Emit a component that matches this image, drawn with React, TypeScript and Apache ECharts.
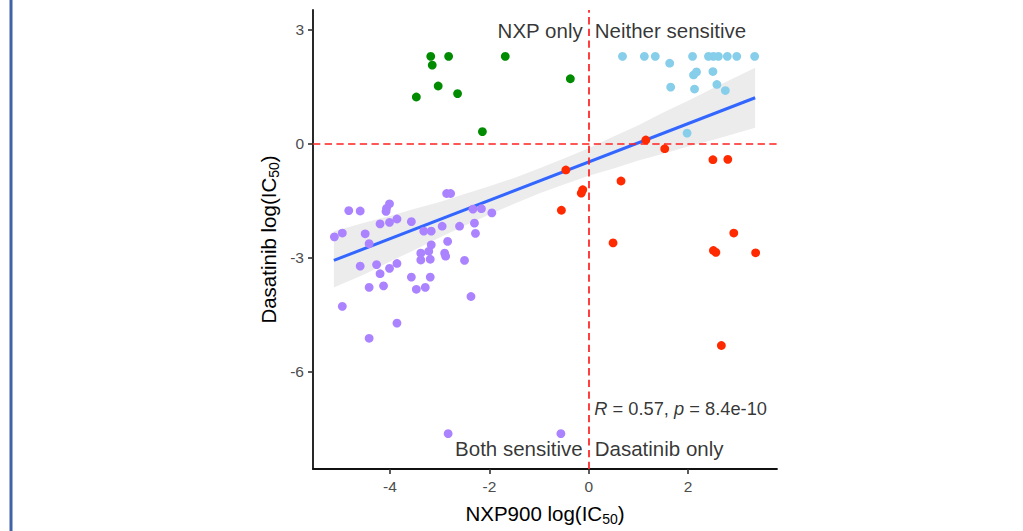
import React, { useEffect, useRef } from "react";
import * as echarts from "echarts";

const FONT = '"Liberation Sans", Arial, Helvetica, sans-serif';

// Both sensitive (purple)
const bothSensitive: [number, number][] = [
  [-2.86, -1.32], [-2.78, -1.32], [-4.83, -1.77], [-4.6, -1.78], [-4.01, -1.59],
  [-4.07, -1.71], [-4.08, -1.79], [-2.33, -1.73], [-2.16, -1.72], [-1.95, -1.83],
  [-3.86, -1.99], [-4.2, -2.12], [-4.01, -2.08], [-3.57, -2.06], [-5.12, -2.46],
  [-4.96, -2.36], [-4.5, -2.38], [-4.42, -2.64], [-3.32, -2.31], [-3.17, -2.31],
  [-2.95, -2.18], [-2.6, -2.18], [-2.3, -2.1], [-2.28, -2.37], [-2.84, -2.58],
  [-3.17, -2.67], [-3.22, -2.84], [-3.38, -2.89], [-2.9, -2.89], [-2.88, -2.97],
  [-3.38, -3.07], [-3.19, -3.05], [-2.5, -3.08], [-4.6, -3.23], [-4.27, -3.19],
  [-3.86, -3.16], [-4.01, -3.29], [-4.2, -3.43], [-3.57, -3.52], [-3.19, -3.52],
  [-4.13, -3.75], [-4.42, -3.79], [-3.47, -3.84], [-3.29, -3.79], [-2.37, -4.03],
  [-4.96, -4.29], [-3.86, -4.73], [-4.42, -5.13], [-2.83, -7.64], [-0.56, -7.64],
];

// NXP only (green)
const nxpOnly: [number, number][] = [
  [-3.18, 2.29], [-2.82, 2.29], [-3.15, 2.06], [-1.68, 2.29], [-3.03, 1.51],
  [-3.47, 1.22], [-2.64, 1.31], [-0.37, 1.7], [-2.14, 0.31],
];

// Neither sensitive (light blue)
const neitherSensitive: [number, number][] = [
  [0.68, 2.29], [1.12, 2.29], [1.34, 2.29], [1.63, 2.11], [2.09, 2.29],
  [2.41, 2.29], [2.51, 2.29], [2.61, 2.29], [2.79, 2.29], [2.98, 2.29],
  [3.34, 2.29], [2.11, 1.8], [2.17, 1.88], [2.5, 1.89], [1.65, 1.48],
  [2.13, 1.43], [2.58, 1.55], [2.75, 1.39], [1.98, 0.27],
];

// Dasatinib only (red)
const dasatinibOnly: [number, number][] = [
  [1.15, 0.09], [1.53, -0.14], [-0.46, -0.7], [0.65, -0.99], [-0.12, -1.22],
  [-0.15, -1.31], [-0.55, -1.76], [2.5, -0.43], [2.8, -0.42], [0.49, -2.62],
  [2.92, -2.36], [2.51, -2.82], [2.56, -2.87], [3.36, -2.88], [2.67, -5.32],
];

// Linear fit and its confidence band
const fitX = [-5.13, 3.35];
const fitY = [-3.08, 1.2];
const bandX = [-5.13, -4.5, -4, -3.5, -3, -2.5, -2, -1.5, -1, -0.5, 0, 0.5, 1, 1.5, 2, 2.5, 3.35];
const bandLow = [-3.79, -3.44, -3.11, -2.8, -2.48, -2.17, -1.87, -1.59, -1.32, -1.08, -0.85, -0.66, -0.45, -0.27, -0.08, 0.09, 0.41];
const bandHigh = [-2.31, -2.08, -1.91, -1.72, -1.54, -1.33, -1.13, -0.91, -0.66, -0.4, -0.13, 0.18, 0.48, 0.81, 1.12, 1.45, 1.99];

const xTicks = [-4, -2, 0, 2];
const yTicks = [-6, -3, 0, 3];

const xRange = [-5.55, 3.79];
const yRange = [-8.57, 3.51];

const quadrantLabels = [
  { text: "NXP only", x: 0, y: 2.96, side: "left" },
  { text: "Neither sensitive", x: 0, y: 2.96, side: "right" },
  { text: "Both sensitive", x: 0, y: -8.04, side: "left" },
  { text: "Dasatinib only", x: 0, y: -8.04, side: "right" },
];
const statLabel = { x: 0, y: -6.99, r: "0.57", p: "8.4e-10" };

export default function App() {
  const ref = useRef<HTMLDivElement>(null);

  useEffect(() => {
    if (!ref.current) return;
    const chart = echarts.init(ref.current, null, { renderer: "svg" });

    const pointSeries = (name: string, data: [number, number][], color: string) => ({
      name,
      type: "scatter",
      data,
      symbol: "circle",
      symbolSize: 8.8,
      itemStyle: { color, opacity: 1 },
      z: 5,
      silent: true,
    });

    chart.setOption({
      animation: false,
      backgroundColor: "#ffffff",
      grid: { left: 313, right: 246, top: 10, bottom: 59.3, containLabel: false },
      xAxis: {
        type: "value",
        min: xRange[0],
        max: xRange[1],
        name: "NXP900 log(IC{sub|50})",
        nameLocation: "middle",
        nameGap: 31,
        nameTextStyle: {
          fontFamily: FONT,
          fontSize: 20.5,
          color: "#000",
          rich: { sub: { fontFamily: FONT, fontSize: 14, color: "#000", padding: [12, 0, 0, 0] } },
        },
        axisLine: { show: true, onZero: false, lineStyle: { color: "#111", width: 1.8 } },
        axisTick: { show: true, length: 5, customValues: xTicks, lineStyle: { color: "#333", width: 1.6 } },
        axisLabel: { customValues: xTicks, margin: 9, fontSize: 15.5, color: "#4d4d4d", fontFamily: FONT },
        splitLine: { show: false },
      },
      yAxis: {
        type: "value",
        min: yRange[0],
        max: yRange[1],
        name: "Dasatinib log(IC{sub|50})",
        nameLocation: "middle",
        nameGap: 32,
        nameTextStyle: {
          fontFamily: FONT,
          fontSize: 20.5,
          color: "#000",
          rich: { sub: { fontFamily: FONT, fontSize: 14, color: "#000", padding: [12, 0, 0, 0] } },
        },
        axisLine: { show: true, onZero: false, lineStyle: { color: "#111", width: 1.8 } },
        axisTick: { show: true, length: 5, customValues: yTicks, lineStyle: { color: "#333", width: 1.6 } },
        axisLabel: { customValues: yTicks, margin: 9, fontSize: 15.5, color: "#4d4d4d", fontFamily: FONT },
        splitLine: { show: false },
      },
      graphic: [
        {
          type: "rect",
          shape: { x: 9.5, y: 0, width: 3, height: 531 },
          style: { fill: "#3f62a8" },
          silent: true,
        },
      ],
      series: [
        {
          name: "band",
          type: "custom",
          data: [[bandX[0], bandLow[0]]],
          z: 1,
          silent: true,
          renderItem: (_params: any, api: any) => {
            const upper = bandX.map((x, i) => api.coord([x, bandHigh[i]]));
            const lower = bandX.map((x, i) => api.coord([x, bandLow[i]])).reverse();
            return {
              type: "polygon",
              shape: { points: upper.concat(lower) },
              style: { fill: "#ececec" },
            };
          },
        },
        {
          name: "refLines",
          type: "line",
          data: [],
          z: 2,
          silent: true,
          markLine: {
            silent: true,
            symbol: ["none", "none"],
            label: { show: false },
            lineStyle: { color: "#ff1f1f", width: 1.7, type: [7.3, 4.4] },
            data: [{ xAxis: 0 }, { yAxis: 0 }],
          },
        },
        {
          name: "fit",
          type: "line",
          data: fitX.map((x, i) => [x, fitY[i]]),
          symbol: "none",
          lineStyle: { color: "#3366ff", width: 3 },
          z: 3,
          silent: true,
        },
        pointSeries("Both sensitive", bothSensitive, "#ab82ff"),
        pointSeries("NXP only", nxpOnly, "#008b00"),
        pointSeries("Neither sensitive", neitherSensitive, "#87ceeb"),
        pointSeries("Dasatinib only", dasatinibOnly, "#ff2a00"),
        {
          name: "labels",
          type: "scatter",
          symbolSize: 0,
          z: 6,
          silent: true,
          data: [
            ...quadrantLabels.map((q) => ({
              value: [q.x, q.y],
              label: {
                show: true,
                position: q.side,
                distance: 6,
                formatter: q.text,
                fontSize: 20.5,
                color: "#000",
                fontFamily: FONT,
              },
            })),
            {
              value: [statLabel.x, statLabel.y],
              label: {
                show: true,
                position: "right",
                distance: 5.5,
                formatter: `{i|R} = ${statLabel.r}, {i|p} = ${statLabel.p}`,
                fontSize: 18.3,
                color: "#000",
                fontFamily: FONT,
                rich: { i: { fontStyle: "italic", fontSize: 18.3, color: "#000", fontFamily: FONT } },
              },
            },
          ],
        },
      ],
    });

    return () => chart.dispose();
  }, []);

  return (
    <div
      ref={ref}
      style={{ position: "absolute", left: 0, top: 0, width: 1023, height: 531, background: "#fff" }}
    />
  );
}
